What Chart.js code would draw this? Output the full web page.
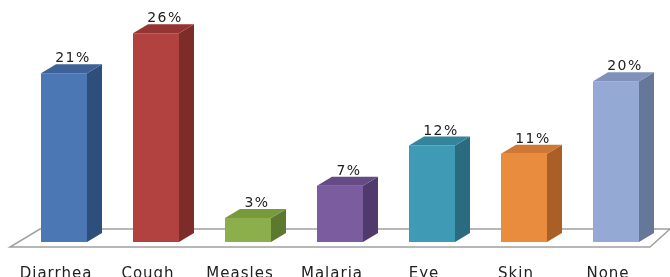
<!DOCTYPE html>
<html lang="en">
<head>
<meta charset="UTF-8">
<title>Illness</title>
<script src="https://cdn.jsdelivr.net/npm/chart.js"></script>
<style>
  html, body { margin: 0; padding: 0; background: #fff; }
  #wrap { width: 670px; height: 277px; }
</style>
</head>
<body>
<div id="wrap"><canvas id="grafico"></canvas></div>
<script>
// data
var categorias = ['Diarrhea', 'Cough', 'Measles', 'Malaria', 'Eye', 'Skin', 'None'];
var valores = [21, 26, 3, 7, 12, 11, 20];
var coresFrente = ['#4b77b5', '#b2423f', '#8cae4b', '#7b5c9e', '#3f9ab5', '#e98c3e', '#94a9d4'];
var coresTopo = ['#3d6298', '#953533', '#789a3d', '#654a85', '#33849c', '#cf7833', '#8092bb'];
var coresLado = ['#2e4f7c', '#7e2c2a', '#5c7a2f', '#4f3a6b', '#2a6b80', '#a95f26', '#667899'];

var DX = 15, DY = -9;  // profundidade do efeito 3d

// chao em perspectiva
var chao = {
    id: 'chao',
    beforeDatasetsDraw: function (chart) {
        var ctx = chart.ctx, a = chart.chartArea;
        var base = chart.scales.y.getPixelForValue(0);
        ctx.save();
        ctx.strokeStyle = '#a0a0a0';
        ctx.lineWidth = 1.5;
        ctx.beginPath();
        ctx.moveTo(a.left - 8, base + 5);
        ctx.lineTo(a.right - 12, base + 5);
        ctx.lineTo(a.right + 8, base - 13);
        ctx.lineTo(a.left + 22, base - 13);
        ctx.closePath();
        ctx.stroke();
        ctx.restore();
    }
};

// lados, topo, rotulos
var barras3d = {
    id: 'barras3d',
    afterDatasetsDraw: function (chart) {
        var ctx = chart.ctx;
        var meta = chart.getDatasetMeta(0);
        ctx.save();
        meta.data.forEach(function (bar, i) {
            var p = bar.getProps(['x', 'y', 'base', 'width'], true);
            var l = p.x - p.width / 2, r = p.x + p.width / 2;
            // lado
            ctx.fillStyle = coresLado[i];
            ctx.beginPath();
            ctx.moveTo(r, p.y);
            ctx.lineTo(r + DX, p.y + DY);
            ctx.lineTo(r + DX, p.base + DY);
            ctx.lineTo(r, p.base);
            ctx.closePath();
            ctx.fill();
            // topo
            ctx.fillStyle = coresTopo[i];
            ctx.beginPath();
            ctx.moveTo(l, p.y);
            ctx.lineTo(l + DX, p.y + DY);
            ctx.lineTo(r + DX, p.y + DY);
            ctx.lineTo(r, p.y);
            ctx.closePath();
            ctx.fill();
            // valor
            ctx.fillStyle = '#222';
            ctx.font = '14px "DejaVu Sans"';
            ctx.letterSpacing = '1.5px';
            ctx.textAlign = 'center';
            ctx.textBaseline = 'alphabetic';
            ctx.fillText(valores[i] + '%', p.x + 9, p.y - 11);
            // categoria
            ctx.font = '15px "DejaVu Sans"';
            ctx.letterSpacing = '1px';
            ctx.fillText(categorias[i], p.x - 8, 278);
            ctx.letterSpacing = '0px';
        });
        ctx.restore();
    }
};

var ctx = document.getElementById('grafico').getContext('2d');
var meuGrafico = new Chart(ctx, {
    type: 'bar',
    data: {
        labels: categorias,
        datasets: [{
            data: valores,
            backgroundColor: coresFrente,
            borderWidth: 0,
            barPercentage: 0.5,
            categoryPercentage: 1
        }]
    },
    options: {
        responsive: true,
        maintainAspectRatio: false,
        animation: false,
        layout: { padding: { left: 18, right: 8, top: 1, bottom: 35 } },
        plugins: { legend: { display: false }, tooltip: { enabled: false } },
        scales: {
            x: { display: false },
            y: { display: false, min: 0, max: 30 }
        }
    },
    plugins: [chao, barras3d]
});
</script>
</body>
</html>
